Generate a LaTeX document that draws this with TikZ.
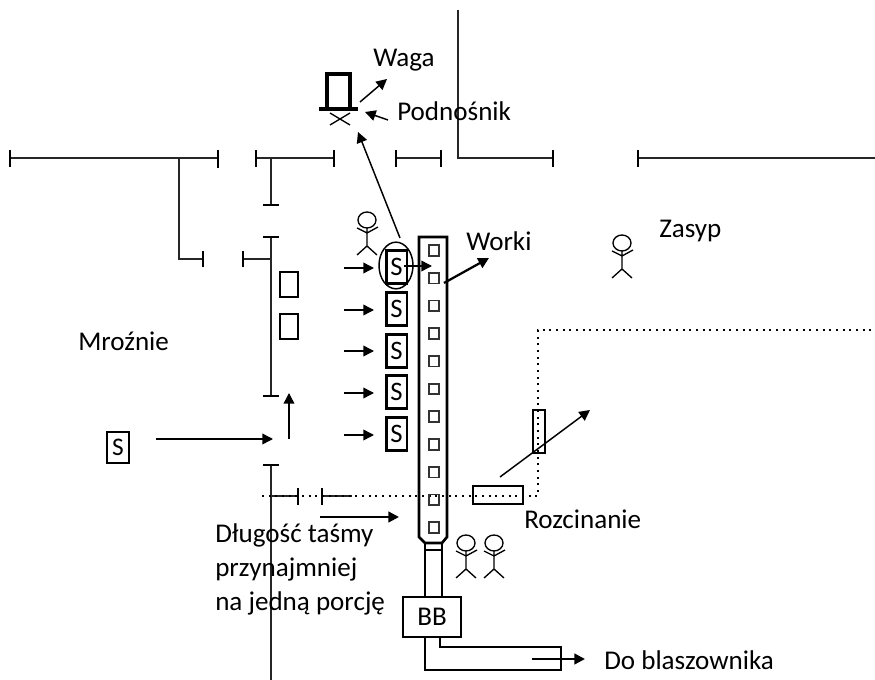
\documentclass[tikz,border=0pt]{standalone}
\usepackage{fontspec}
\setmainfont{Carlito}
\usetikzlibrary{arrows.meta,shapes.geometric}
\tikzset{
  x=0.75pt,y=-0.75pt,
  wall/.style={line width=1.1pt,black!85},
  tick/.style={line width=2pt,black},
  heavy/.style={line width=2pt,black},
  arrow/.style={line width=1.1pt,-{Triangle[length=8pt,width=8pt]}},
  thickarrow/.style={line width=1.7pt,-{Triangle[length=8pt,width=8pt]}},
  dots/.style={line width=1pt,dash pattern=on 1.5pt off 3.5pt},
  label/.style={font=\fontsize{20.3pt}{24pt}\selectfont,inner sep=0pt,anchor=base west},
  sbox/.style={draw,line width=2pt,minimum width=15.5pt,minimum height=25pt,inner sep=0pt,font=\fontsize{20pt}{22pt}\selectfont},
  slot/.style={draw,line width=1.3pt,black!80,minimum width=8pt,minimum height=8pt,inner sep=0pt},
  bagbox/.style={draw,line width=1.6pt,minimum width=13.5pt,minimum height=18.5pt,inner sep=0pt},
  person/.pic={
    \draw[line width=1pt] (0,0) ellipse[x radius=9,y radius=8];
    \draw[line width=1pt] (-10,8) -- (0,13) -- (11,7) (0,8) -- (0,26) (-10,35) -- (0,26) -- (10,35);
  }
}
\begin{document}
\begin{tikzpicture}
\useasboundingbox (0,0) rectangle (875,680);
% walls
\draw[wall] (10,158) -- (218,158);
\draw[tick] (10,150) -- (10,167) (218,150) -- (218,168);
\draw[wall] (179,158) -- (179,259) -- (203,259);
\draw[tick] (203,251) -- (203,267);
\draw[wall] (256,158) -- (334,158);
\draw[tick] (256,150) -- (256,167) (334,150) -- (334,167);
\draw[wall] (271,158) -- (271,205);
\draw[tick] (263,205) -- (279,205);
\draw[wall] (271,237) -- (271,396);
\draw[tick] (263,237) -- (279,237) (263,396) -- (279,396);
\draw[wall] (271,259) -- (243,259);
\draw[tick] (243,251) -- (243,267);
\draw[wall] (396,158) -- (441,158);
\draw[tick] (396,150) -- (396,167) (441,150) -- (441,167);
\draw[wall] (458,10) -- (458,158) -- (553,158);
\draw[tick] (553,150) -- (553,167);
\draw[wall] (638,158) -- (875,158);
\draw[tick] (638,150) -- (638,167);
\draw[wall] (271,465) -- (271,680);
\draw[tick] (263,465) -- (279,465);
\draw[wall] (271,496) -- (298,496);
\draw[tick] (298,488) -- (298,505);
\draw[wall] (322,496) -- (352,496);
\draw[tick] (322,488) -- (322,505);
% dotted line
\draw[dots] (262,496) -- (538,496) -- (538,330) -- (875,330);
% small empty boxes
\node[bagbox] (e1) at (289,284.5) {};
\node[bagbox] (e2) at (289,326.5) {};
% scale and lift
\draw[heavy,line width=2.6pt] (327,109) -- (327,74) -- (350,74) -- (350,109);
\draw[line width=3.2pt] (319,109) -- (358,109);
\draw[line width=1pt] (330,113) -- (350,125) (330,125) -- (350,113);
% conveyor
\draw[heavy] (419,237) -- (447,237) -- (447,537) -- (442,543) -- (425,543) -- (419,537) -- cycle;
\draw[heavy] (425,543) -- (425,597) (442,543) -- (442,597);
\draw[line width=1.3pt] (425,550) -- (442,550);
\foreach \i [evaluate=\i as \yy using 250.5+27.7*\i] in {0,...,10}
  \node[slot] (slot\i) at (434,\yy) {};
% S boxes
\node[sbox] (s1) at (396.5,267) {S};
\node[sbox] (s2) at (396.5,309) {S};
\node[sbox] (s3) at (396.5,351) {S};
\node[sbox] (s4) at (396.5,392) {S};
\node[sbox] (s5) at (396.5,434) {S};
\node[draw,line width=1.4pt,minimum width=16pt,minimum height=23pt,inner sep=0pt,font=\fontsize{19pt}{22pt}\selectfont] (s0) at (118,447.5) {S};
\node[draw,ellipse,line width=1.1pt,minimum width=25.5pt,minimum height=35pt,inner sep=0pt] (circ) at (396,265.5) {};
% arrows
\foreach \n/\y in {1/268,2/310,3/351,4/393,5/435}{
  \coordinate (f\n) at (344,\y);
  \coordinate (t\n) at (374,\y);
  \draw[arrow] (f\n) -- (t\n);
}
\coordinate (lineStart) at (400,238);
\coordinate (liftPoint) at (358,132);
\draw[arrow] (lineStart) -- (liftPoint);
\coordinate (intoA) at (404,266); \coordinate (intoB) at (432,266);
\draw[arrow] (intoA) -- (intoB);
\coordinate (wagaA) at (360,102); \coordinate (wagaB) at (387,79);
\draw[arrow] (wagaA) -- (wagaB);
\coordinate (podA) at (388,120); \coordinate (podB) at (365,112);
\draw[arrow] (podA) -- (podB);
\coordinate (workA) at (444,283); \coordinate (workB) at (489,258);
\draw[thickarrow] (workA) -- (workB);
\coordinate (inA) at (156,439); \coordinate (inB) at (273,439);
\draw[arrow] (inA) -- (inB);
\coordinate (upA) at (289,439); \coordinate (upB) at (289,393);
\draw[arrow] (upA) -- (upB);
\coordinate (lenA) at (320,517); \coordinate (lenB) at (399,517);
\draw[thickarrow] (lenA) -- (lenB);
% cutting
\node[draw,line width=1.9pt,minimum width=37.5pt,minimum height=13.5pt,inner sep=0pt] (cutH) at (498,495) {};
\node[draw,line width=1.9pt,minimum width=9pt,minimum height=32pt,inner sep=0pt] (cutV) at (539,431.5) {};
\coordinate (cutA) at (500,477); \coordinate (cutB) at (590,410);
\draw[arrow] (cutA) -- (cutB);
% BB and outlet
\node[draw,line width=1.6pt,minimum width=43.5pt,minimum height=30pt,inner sep=0pt,font=\fontsize{20.3pt}{22pt}\selectfont] (bb) at (432,617) {BB};
\draw[line width=1.6pt] (425,637) -- (425,670) -- (561,670) -- (561,647) -- (440,647) -- (440,637);
\coordinate (outA) at (532,659); \coordinate (outB) at (585,659);
\draw[thickarrow] (outA) -- (outB);
% persons
\pic at (367,220) {person};
\pic at (622,243) {person};
\pic at (466,543) {person};
\pic at (494,543) {person};
% labels
\node[label] (waga) at (373,67) {Waga};
\node[label] (pod) at (397,121) {Podnośnik};
\node[label] (worki) at (466,251) {Worki};
\node[label] (zasyp) at (659,238) {Zasyp};
\node[label] (mroz) at (78,351) {Mroźnie};
\node[label] (roz) at (524,529) {Rozcinanie};
\node[label] (dl1) at (215,543) {Długość taśmy};
\node[label] (dl2) at (215,577) {przynajmniej};
\node[label] (dl3) at (215,611) {na jedną porcję};
\node[label] (blasz) at (604,669) {Do blaszownika};
\end{tikzpicture}
\end{document}
